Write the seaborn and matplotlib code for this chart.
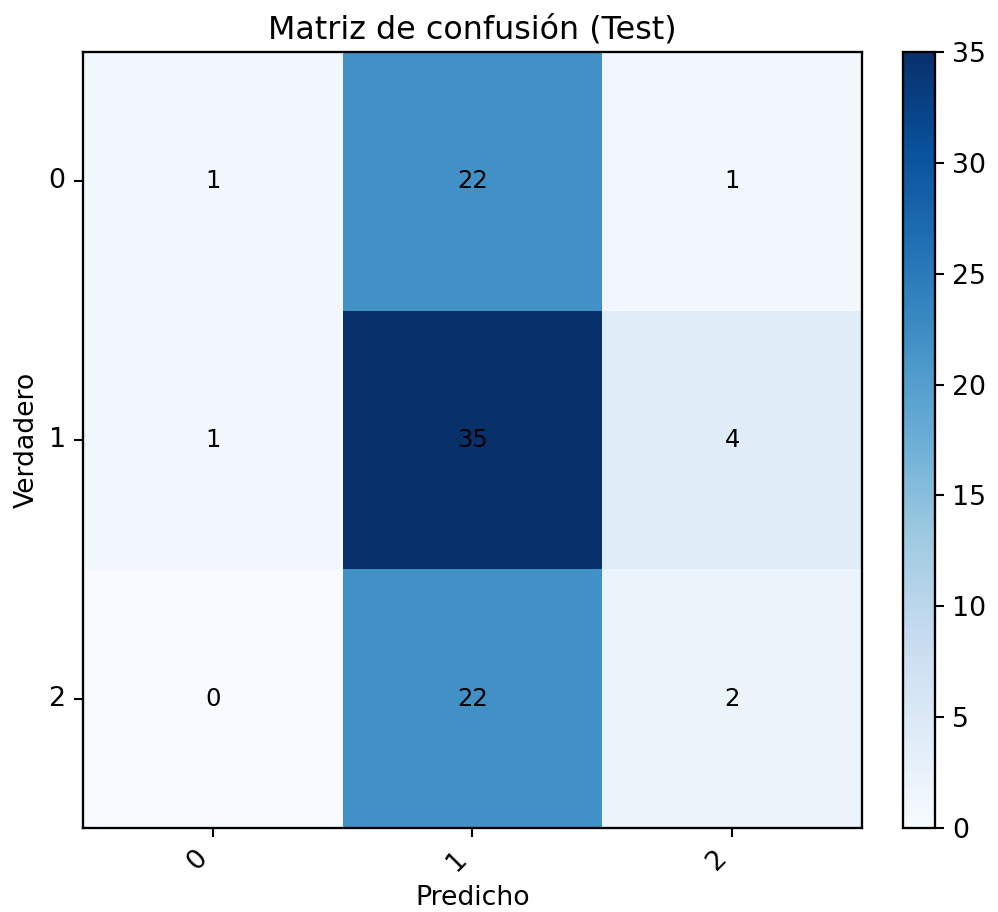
import numpy as np
import matplotlib
matplotlib.use("Agg")
import matplotlib.pyplot as plt
import seaborn as sns

labels = ["0", "1", "2"]
row0 = [1, 22, 1]
row1 = [1, 35, 4]
row2 = [0, 22, 2]
matrix = np.array([row0, row1, row2])

plt.rcParams['font.family'] = ['DejaVu Sans']
W, H = 998, 912
dpi = 166
fig = plt.figure(figsize=(W / dpi, H / dpi), dpi=dpi)
ax = fig.add_axes([83 / W, 1 - 828 / H, (862 - 83) / W, (828 - 52) / H])
cax = fig.add_axes([903 / W, 1 - 828 / H, (935 - 903) / W, (828 - 52) / H])

sns.heatmap(matrix, ax=ax, cbar_ax=cax, cmap="Blues", vmin=0, vmax=35,
            annot=True, fmt="d", annot_kws={"color": "black", "fontsize": 10.5},
            xticklabels=labels, yticklabels=labels)

for s in ax.spines.values():
    s.set_visible(True)
    s.set_linewidth(1.0)
    s.set_color("black")
ax.tick_params(axis="both", length=4, width=0.9)
ax.set_xticklabels(labels, rotation=45, ha="right", fontsize=11.6)
ax.set_yticklabels(labels, rotation=0, fontsize=11.6)
ax.set_xlabel("Predicho", fontsize=11.6)
ax.set_ylabel("Verdadero", fontsize=11.6)
ax.set_title("Matriz de confusión (Test)", fontsize=13.8)

cb = ax.collections[0].colorbar
cb.outline.set_visible(True)
cb.outline.set_linewidth(1.0)
cb.outline.set_edgecolor("black")
cb.set_ticks([0, 5, 10, 15, 20, 25, 30, 35])
cax.tick_params(labelsize=11.6, length=4, width=0.9)

fig.savefig("out.png", dpi=dpi)
